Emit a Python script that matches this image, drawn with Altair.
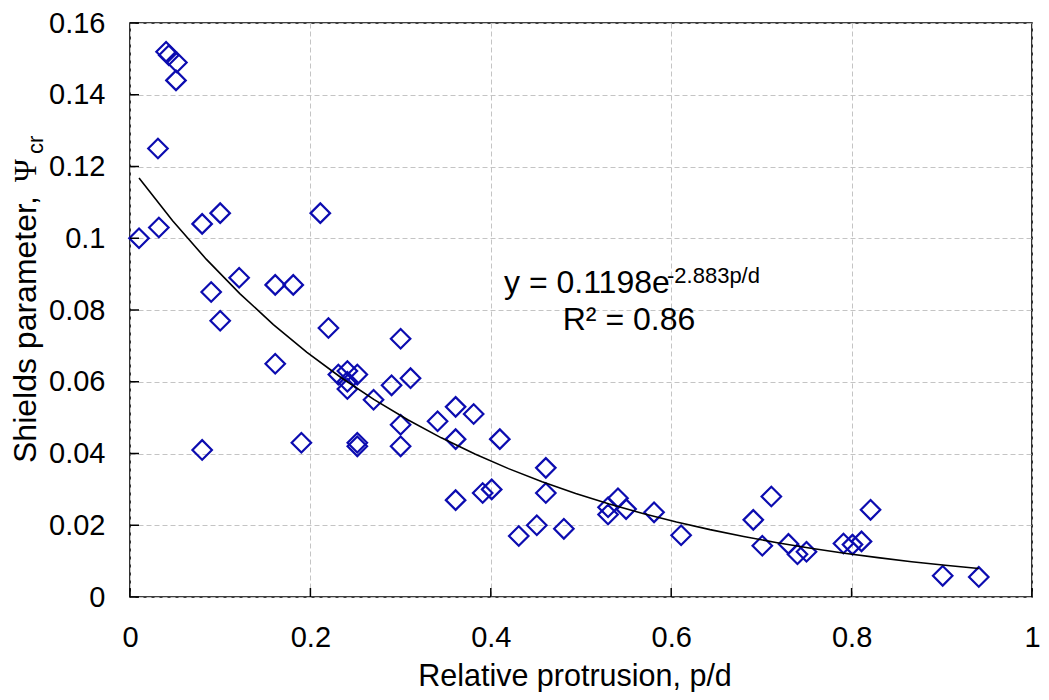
import altair as alt
import pandas as pd

# Relative protrusion p/d
px = [0.010, 0.031, 0.032, 0.040, 0.043, 0.052, 0.051, 0.080, 0.100, 0.211,
      0.121, 0.090, 0.100, 0.161, 0.181, 0.220, 0.300, 0.161, 0.231, 0.241,
      0.252, 0.241, 0.241, 0.290, 0.311, 0.270, 0.300, 0.300, 0.252, 0.252,
      0.190, 0.080, 0.341, 0.361, 0.381, 0.361, 0.410, 0.461, 0.461, 0.361,
      0.391, 0.401, 0.431, 0.451, 0.481, 0.530, 0.530, 0.541, 0.550, 0.581,
      0.611, 0.711, 0.691, 0.701, 0.730, 0.740, 0.750, 0.791, 0.801, 0.811,
      0.821, 0.901, 0.941]
# Shields parameter
psi = [0.100, 0.125, 0.103, 0.152, 0.151, 0.149, 0.144, 0.104, 0.107, 0.107,
       0.089, 0.085, 0.077, 0.087, 0.087, 0.075, 0.072, 0.065, 0.062, 0.063,
       0.062, 0.060, 0.058, 0.059, 0.061, 0.055, 0.048, 0.042, 0.043, 0.042,
       0.043, 0.041, 0.049, 0.053, 0.051, 0.044, 0.044, 0.036, 0.029, 0.027,
       0.029, 0.030, 0.017, 0.020, 0.019, 0.025, 0.023, 0.0275, 0.0245, 0.0236,
       0.0172, 0.028, 0.0215, 0.0143, 0.0148, 0.0119, 0.0126, 0.0149, 0.0146, 0.0155,
       0.0243, 0.0059, 0.0056]

x_ticks = [0, 0.2, 0.4, 0.6, 0.8, 1.0]
y_ticks = [0, 0.02, 0.04, 0.06, 0.08, 0.10, 0.12, 0.14, 0.16]

eq_main = "y = 0.1198e"
eq_sup = "-2.883p/d"
r2_text = "R² = 0.86"

FONT = "Liberation Sans"
W, H = 902, 574
BLUE = "#0c0cb0"

df = pd.DataFrame({"x": px, "y": psi})
xs = alt.Scale(domain=[0, 1], nice=False, zero=False)
ys = alt.Scale(domain=[0, 0.16], nice=False, zero=False)

ax_x = alt.Axis(values=x_ticks, format=".1~f", grid=True, gridColor="#c4c4c4",
                gridDash=[5, 3], gridWidth=1, domain=False, ticks=False,
                labelFont=FONT, labelFontSize=29, labelColor="#000",
                labelPadding=26, title=None, labelFlush=False)
ax_y = alt.Axis(values=y_ticks, format=".2~f", grid=True, gridColor="#c4c4c4",
                gridDash=[5, 3], gridWidth=1, domain=False, ticks=False,
                labelFont=FONT, labelFontSize=29, labelColor="#000",
                labelPadding=25, title=None, labelFlush=False)

points = alt.Chart(df).mark_point(shape="diamond", filled=False, size=380,
                                  strokeWidth=2.2, color=BLUE, opacity=1).encode(
    x=alt.X("x:Q", scale=xs, axis=ax_x),
    y=alt.Y("y:Q", scale=ys, axis=ax_y),
)

curve = alt.Chart(df).transform_calculate(
    ly="log(datum.y)"
).transform_regression(
    "x", "ly", method="poly", order=1
).transform_calculate(
    yfit="exp(datum.ly)"
).mark_line(color="#000", strokeWidth=1.6).encode(
    x=alt.X("x:Q", scale=xs, axis=ax_x),
    y=alt.Y("yfit:Q", scale=ys, axis=ax_y),
)

xt = alt.Chart(pd.DataFrame({"v": x_ticks})).mark_rule(color="#000", strokeWidth=1.5).encode(
    x=alt.X("v:Q", scale=xs, axis=ax_x), y=alt.value(H), y2=alt.value(H - 9))
yt = alt.Chart(pd.DataFrame({"v": y_ticks})).mark_rule(color="#000", strokeWidth=1.5).encode(
    y=alt.Y("v:Q", scale=ys, axis=ax_y), x=alt.value(0), x2=alt.value(9))


def label(txt, x, y, size, align="left", angle=0, font=FONT):
    return alt.Chart(pd.DataFrame({"t": [txt]})).mark_text(
        align=align, baseline="alphabetic", font=font, fontSize=size, color="#000",
        angle=angle).encode(x=alt.value(x), y=alt.value(y), text="t:N")


texts = [
    label(eq_main, 374, 270, 32),
    label(eq_sup, 537, 260, 22),
    label(r2_text, 499, 307, 32, align="center"),
    label("Relative protrusion, p/d", 445, 663, 30.5, align="center"),
    label("Shields parameter,", -94, 440, 32, angle=270),
    label("Ψ", -94, 159, 31, angle=270, font="Liberation Serif"),
    label("cr", -87, 131, 22, angle=270),
]

chart = alt.layer(points, curve, xt, yt, *texts).properties(
    width=W, height=H,
    background="white",
    autosize=alt.AutoSizeParams(type="none"),
    padding={"left": 122, "top": 15, "right": 9, "bottom": 95},
).configure_view(stroke="#000", strokeWidth=1.6)

chart.save("out.html", embed_options={"renderer": "svg", "actions": False})
